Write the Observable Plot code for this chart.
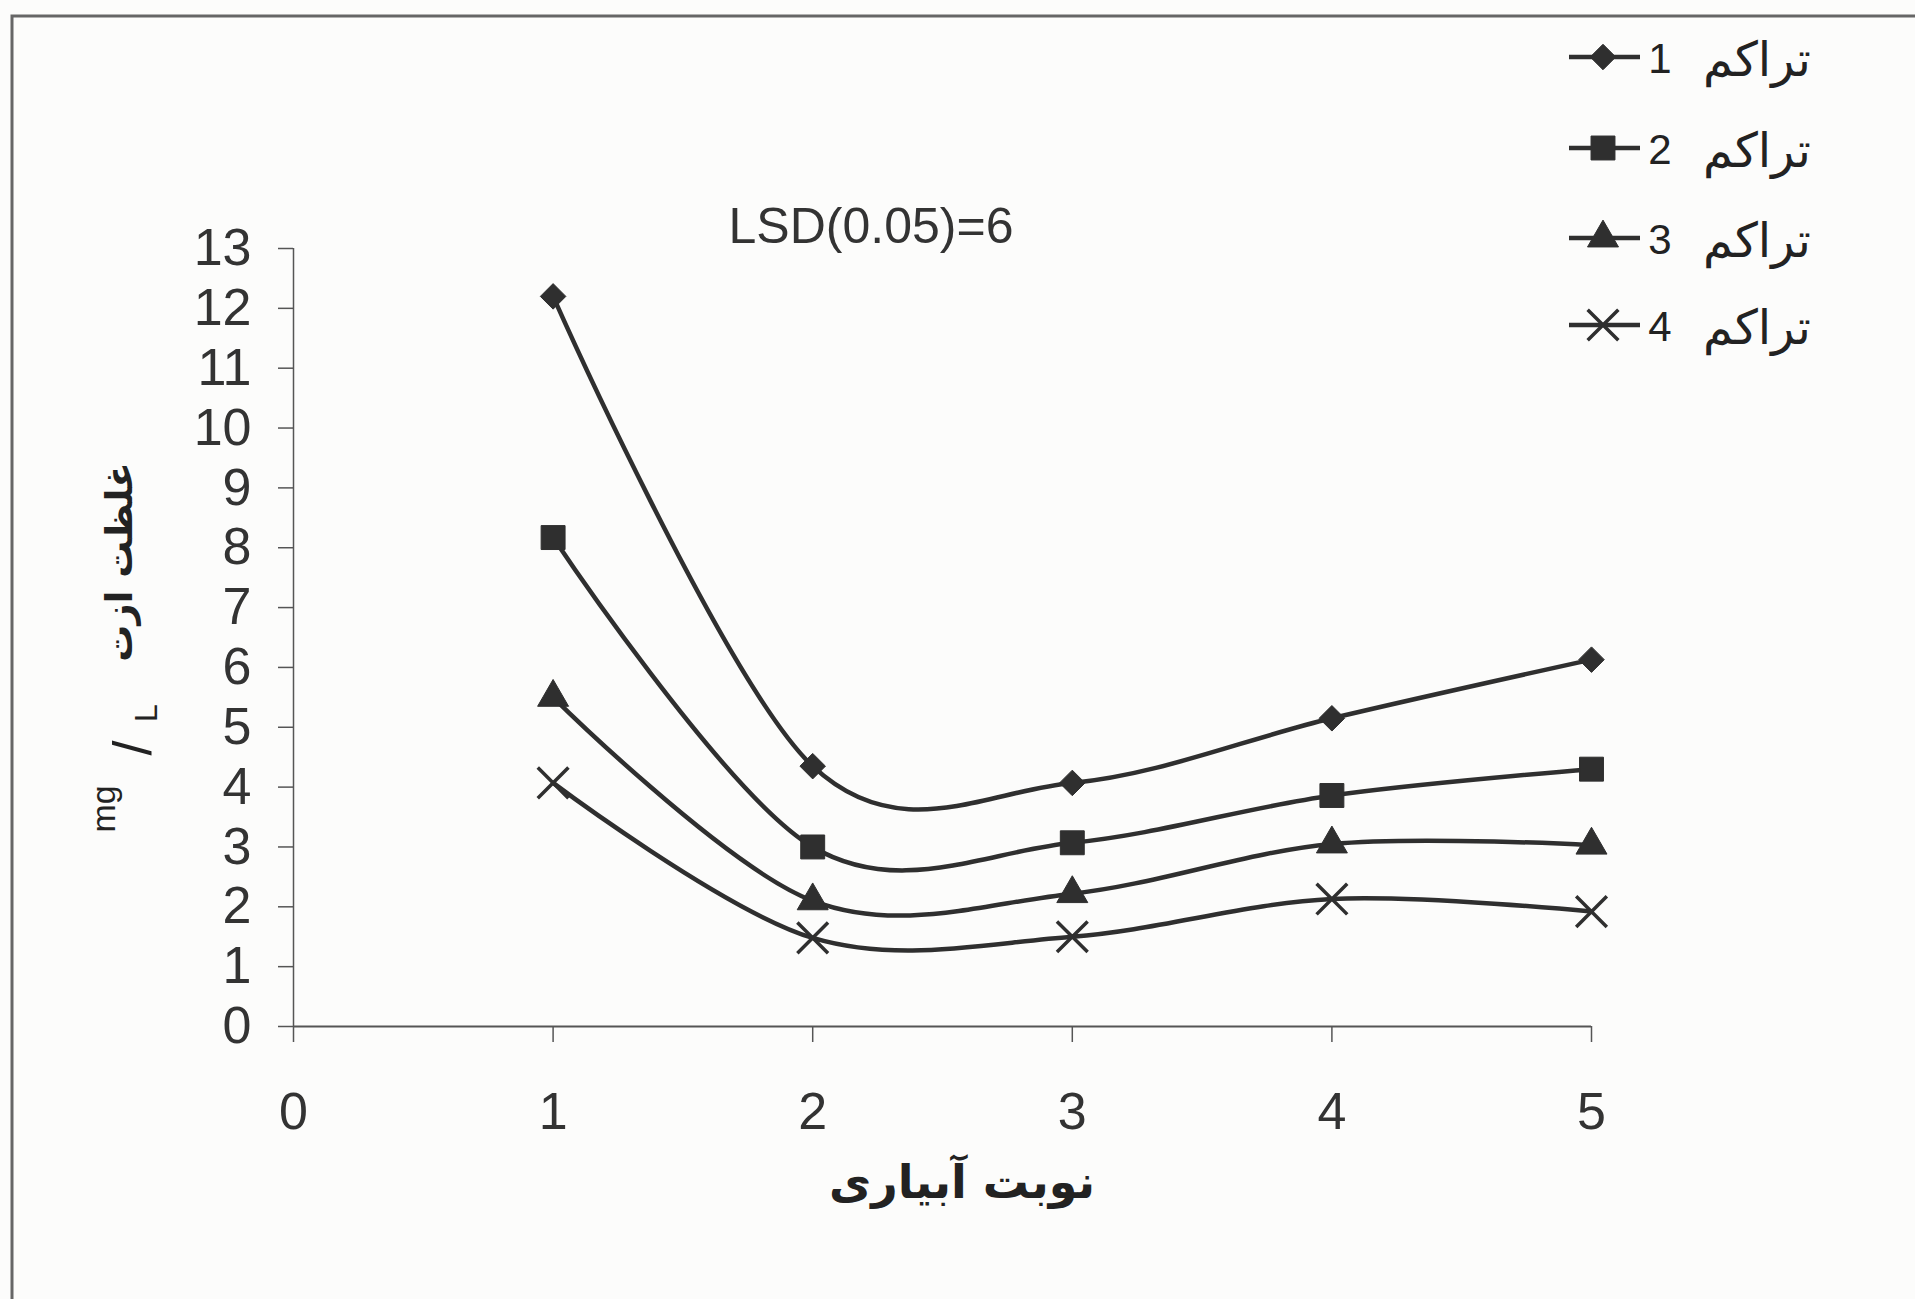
<!DOCTYPE html>
<html>
<head>
<meta charset="utf-8">
<script src="https://cdn.jsdelivr.net/npm/d3@7"></script>
<script src="https://cdn.jsdelivr.net/npm/@observablehq/plot@0.6"></script>
<style>
  html, body { margin: 0; padding: 0; background: #fcfcfb; }
  #chart { position: relative; width: 1915px; height: 1299px; overflow: hidden; }
  #chart svg { position: absolute; left: 0; top: 0; }
</style>
</head>
<body>
<div id="chart"></div>
<script>
// ---- data ----
const irrigationRounds = [1, 2, 3, 4, 5];
const density1 = [12.2, 4.35, 4.07, 5.15, 6.13];
const density2 = [8.17, 3.0, 3.07, 3.86, 4.3];
const density3 = [5.5, 2.1, 2.22, 3.05, 3.03];
const density4 = [4.07, 1.48, 1.5, 2.13, 1.92];
const seriesNames = ["تراکم 1", "تراکم 2", "تراکم 3", "تراکم 4"];
const seriesNumbers = ["1", "2", "3", "4"];
const seriesWord = "تراکم";
const xTicks = [0, 1, 2, 3, 4, 5];
const yTicks = [0, 1, 2, 3, 4, 5, 6, 7, 8, 9, 10, 11, 12, 13];
const xLabel = "نوبت آبیاری";
const yLabelWords = "غلظت ازت";
const annotation = "LSD(0.05)=6";

const allSeries = [density1, density2, density3, density4];
const rows = [];
allSeries.forEach((vals, i) => {
  vals.forEach((v, j) => rows.push({series: seriesNames[i], round: irrigationRounds[j], value: v}));
});

const ink = "#2f2f2f";
const symbolsSpec = [
  {sym: "diamond2", r: 11.5, filled: true},
  {sym: "square", r: 13.5, filled: true},
  {sym: "triangle", r: 11.5, filled: true},
  {sym: "times", r: 14, filled: false}
];

const dotMarks = seriesNames.map((name, i) => Plot.dot(rows.filter(d => d.series === name), {
  x: "round", y: "value",
  symbol: symbolsSpec[i].sym,
  r: symbolsSpec[i].r,
  fill: symbolsSpec[i].filled ? ink : "none",
  stroke: ink,
  strokeWidth: symbolsSpec[i].filled ? 1 : 3.5
}));

const chart = Plot.plot({
  width: 1915,
  height: 1299,
  marginLeft: 293,
  marginRight: 324,
  marginTop: 248,
  marginBottom: 273,
  style: {background: "transparent", fontFamily: "'Liberation Sans', Arial, sans-serif", color: "#333"},
  x: {domain: [0, 5]},
  y: {domain: [0, 13]},
  marks: [
    Plot.axisX({ticks: xTicks, tickFormat: d3.format("d"), tickSize: 16, tickPadding: 50, fontSize: 52, label: null, stroke: "#555", strokeWidth: 1.5}),
    Plot.axisY({ticks: yTicks, tickFormat: d3.format("d"), tickSize: 15, tickPadding: 27, fontSize: 52, label: null, stroke: "#555", strokeWidth: 1.5}),
    Plot.ruleX([0], {stroke: "#555", strokeWidth: 1.5}),
    Plot.ruleY([0], {stroke: "#555", strokeWidth: 2}),
    Plot.line(rows, {x: "round", y: "value", z: "series", curve: "cardinal", stroke: ink, strokeWidth: 4.5}),
    ...dotMarks
  ]
});

document.getElementById("chart").appendChild(chart);

const svg = d3.select(chart);

// scanned frame border (top and left visible)
svg.append("rect").attr("x", 12).attr("y", 16).attr("width", 1940).attr("height", 1320)
  .attr("fill", "none").attr("stroke", "#666").attr("stroke-width", 3);

// annotation
svg.append("text").attr("x", 871).attr("y", 226)
  .attr("text-anchor", "middle").attr("dominant-baseline", "central")
  .style("font-family", "'Liberation Sans', Arial, sans-serif").style("font-size", "50px").attr("fill", "#333")
  .text(annotation);

// x label
svg.append("text").attr("x", 962).attr("y", 1182)
  .attr("text-anchor", "middle").attr("dominant-baseline", "central")
  .style("font-family", "'DejaVu Sans', sans-serif").style("font-weight", "bold").style("font-size", "46px").attr("fill", "#222")
  .text(xLabel);

// y label (rotated)
svg.append("text").attr("transform", "translate(119,562) rotate(-90)")
  .attr("text-anchor", "middle").attr("dominant-baseline", "central")
  .style("font-family", "'DejaVu Sans', sans-serif").style("font-weight", "bold").style("font-size", "37px").attr("fill", "#222")
  .text(yLabelWords);
svg.append("text").attr("transform", "translate(103,809) rotate(-90)")
  .attr("text-anchor", "middle").attr("dominant-baseline", "central")
  .style("font-family", "'Liberation Sans', Arial, sans-serif").style("font-size", "34px").attr("fill", "#222")
  .text("mg");
svg.append("text").attr("transform", "translate(132,748) rotate(-90)")
  .attr("text-anchor", "middle").attr("dominant-baseline", "central")
  .style("font-family", "'Liberation Sans', Arial, sans-serif").style("font-size", "54px").attr("fill", "#222")
  .text("/");
svg.append("text").attr("transform", "translate(146,713) rotate(-90)")
  .attr("text-anchor", "middle").attr("dominant-baseline", "central")
  .style("font-family", "'Liberation Sans', Arial, sans-serif").style("font-size", "32px").attr("fill", "#222")
  .text("L");

// legend
const legendY = [57, 148, 238, 325];
const d3Symbols = [d3.symbolDiamond2, d3.symbolSquare, d3.symbolTriangle, d3.symbolTimes];
seriesNames.forEach((name, i) => {
  const g = svg.append("g").attr("transform", `translate(0,${legendY[i]})`);
  g.append("line").attr("x1", 1569).attr("x2", 1640).attr("y1", 0).attr("y2", 0)
    .attr("stroke", ink).attr("stroke-width", 4.5);
  const spec = symbolsSpec[i];
  g.append("path").attr("transform", "translate(1603,0)")
    .attr("d", d3.symbol(d3Symbols[i], spec.r * spec.r * Math.PI)())
    .attr("fill", spec.filled ? ink : "none").attr("stroke", ink).attr("stroke-width", spec.filled ? 1 : 3.5);
  g.append("text").attr("x", 1660).attr("y", 1).attr("text-anchor", "middle").attr("dominant-baseline", "central")
    .style("font-family", "'Liberation Sans', Arial, sans-serif").style("font-size", "42px").attr("fill", "#222")
    .text(seriesNumbers[i]);
  g.append("text").attr("x", 1757).attr("y", 2).attr("text-anchor", "middle").attr("dominant-baseline", "central")
    .style("font-family", "'DejaVu Sans', sans-serif").style("font-size", "48px").attr("fill", "#222")
    .text(seriesWord);
});
</script>
</body>
</html>
